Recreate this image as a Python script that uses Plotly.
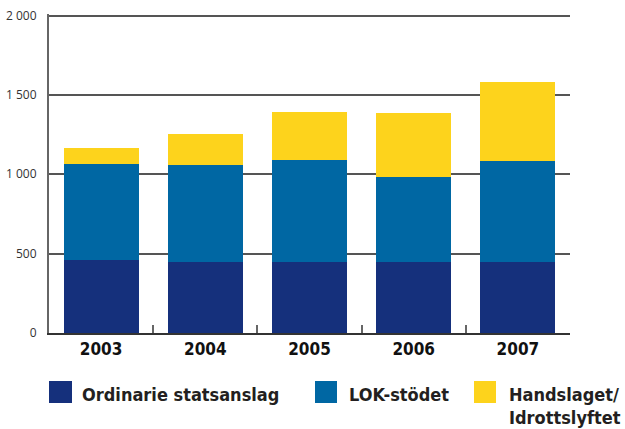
import plotly.graph_objects as go

years = ["2003", "2004", "2005", "2006", "2007"]
ordinarie = [460, 448, 448, 448, 448]
lok = [606, 612, 643, 536, 637]
handslaget = [101, 196, 303, 404, 499]

series_names = ["Ordinarie statsanslag", "LOK-stödet", "Handslaget/<br>Idrottslyftet"]
series_colors = ["#15307c", "#0067a3", "#fdd31c"]

y_tickvals = [0, 500, 1000, 1500, 2000]
y_ticktext = ["0", "500", "1 000", "1 500", "2 000"]

W, H = 625, 429
L, R, T, B = 49, 570, 14, 333

def px(xp):
    return (xp - L) / (R - L)

def py(yp):
    return (B - yp) / (B - T)

fig = go.Figure()
for name, vals, col in zip(series_names, [ordinarie, lok, handslaget], series_colors):
    fig.add_trace(go.Bar(x=years, y=vals, name=name.replace("<br>", " "),
                         marker=dict(color=col, line=dict(width=0)),
                         showlegend=False))

bold_font = "Liberation Sans Narrow, DejaVu Sans Condensed, sans-serif"

fig.update_layout(
    width=W, height=H,
    margin=dict(l=L, r=W - R, t=T, b=H - B, autoexpand=False),
    barmode="stack",
    bargap=0.28,
    plot_bgcolor="white",
    paper_bgcolor="white",
    xaxis=dict(
        type="category",
        showline=True, linecolor="#333333", linewidth=2,
        ticks="inside", tickson="boundaries", ticklen=8, tickcolor="#666666", tickwidth=1.5,
        tickfont=dict(family=bold_font, size=17, color="#111111", weight="bold"),
        showgrid=False,
    ),
    yaxis=dict(
        range=[0, 2010],
        tickvals=y_tickvals, ticktext=y_ticktext,
        showline=True, linecolor="#666666", linewidth=2,
        gridcolor="#555555", gridwidth=1.5,
        zeroline=False,
        ticks="", ticklabelstandoff=8,
        tickfont=dict(family="Open Sans, sans-serif", size=12, color="#333333"),
    ),
)

# manual legend
legend_items = [
    (49, 72, 80),
    (315, 337, 347),
    (474, 496, 507),
]
for (x0, x1, tx), name, col in zip(legend_items, series_names, series_colors):
    fig.add_shape(type="rect", xref="paper", yref="paper",
                  x0=px(x0), x1=px(x1), y0=py(403), y1=py(381),
                  fillcolor=col, line=dict(width=0))
    lines = name.split("<br>")
    for i, ln in enumerate(lines):
        fig.add_annotation(xref="paper", yref="paper", x=px(tx), y=py(395 + 22 * i),
                           xanchor="left", yanchor="middle", showarrow=False,
                           text=ln,
                           font=dict(family=bold_font, size=18, color="#231f20", weight="bold"))

fig.write_html("out.html", config={"displayModeBar": False},
               post_script="document.body.style.margin='0';")
